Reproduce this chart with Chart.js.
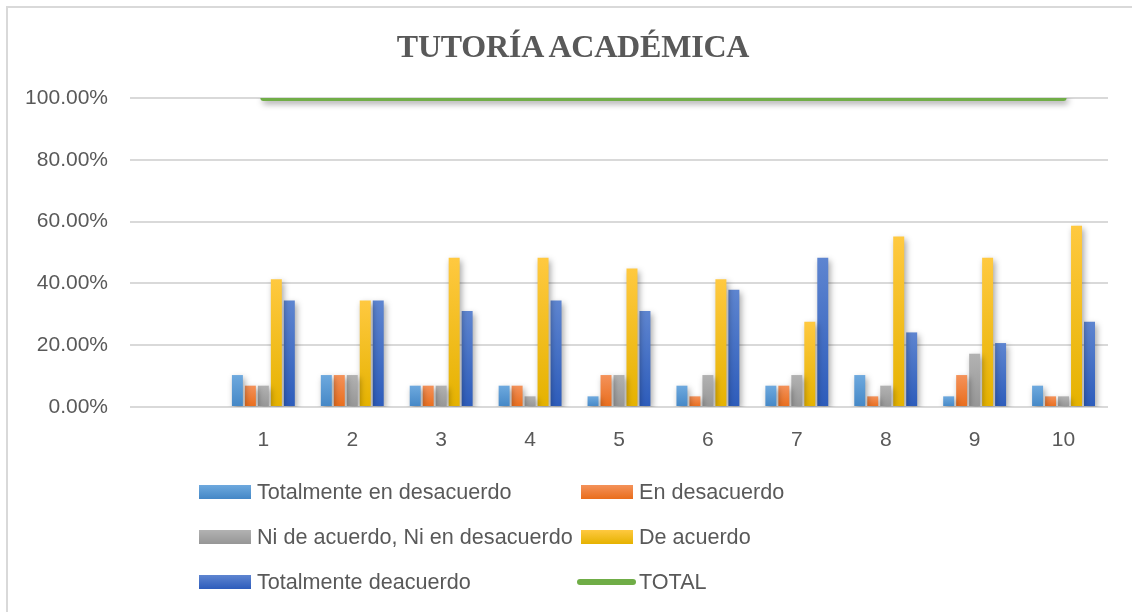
<!DOCTYPE html>
<html>
<head>
<meta charset="utf-8">
<script src="https://cdn.jsdelivr.net/npm/chart.js@4.4.1/dist/chart.umd.min.js"></script>
<style>
  html, body { margin: 0; padding: 0; background: #fff; overflow: hidden; }
  #wrap { position: relative; width: 1132px; height: 612px; overflow: hidden; }
  #frame { position: absolute; left: 6px; top: 6px; width: 1140px; height: 620px; border: 2px solid #d9d9d9; box-sizing: border-box; }
  #title { position: absolute; left: 0; top: 28px; width: 1146px; text-align: center; font: bold 32px "Liberation Serif", "Times New Roman", serif; line-height: 36px; color: #595959; letter-spacing: -0.2px; }
  canvas { position: absolute; left: 0; top: 0; }
  .item { position: absolute; height: 24px; display: flex; align-items: center; font: 21.6px "Liberation Sans", Arial, sans-serif; color: #595959; white-space: nowrap; }
  .sw { width: 52px; height: 14px; margin-right: 6px; }
  .ln { width: 59px; height: 6px; border-radius: 3px; margin-right: 3px; }
</style>
</head>
<body>
<div id="wrap">
  <div id="frame"></div>
  <canvas id="c" width="1132" height="612"></canvas>
  <div id="title">TUTORÍA ACADÉMICA</div>
  <div id="legend"></div>
</div>
<script>
const categories = ['', '1', '2', '3', '4', '5', '6', '7', '8', '9', '10'];
const totalmenteEnDesacuerdo = [null, 10.34, 10.34, 6.90, 6.90, 3.45, 6.90, 6.90, 10.34, 3.45, 6.90];
const enDesacuerdo = [null, 6.90, 10.34, 6.90, 6.90, 10.34, 3.45, 6.90, 3.45, 10.34, 3.45];
const niDeAcuerdo = [null, 6.90, 10.34, 6.90, 3.45, 10.34, 10.34, 10.34, 6.90, 17.24, 3.45];
const deAcuerdo = [null, 41.38, 34.48, 48.28, 48.28, 44.83, 41.38, 27.59, 55.17, 48.28, 58.62];
const totalmenteDeacuerdo = [null, 34.48, 34.48, 31.03, 34.48, 31.03, 37.93, 48.28, 24.14, 20.69, 27.59];
const total = [null, 100, 100, 100, 100, 100, 100, 100, 100, 100, 100];
const yTicks = [0, 20, 40, 60, 80, 100];

const seriesNames = ['Totalmente en desacuerdo', 'En desacuerdo', 'Ni de acuerdo, Ni en desacuerdo', 'De acuerdo', 'Totalmente deacuerdo', 'TOTAL'];
const gradStops = [
  ['#6EA9DE', '#4487C6'],
  ['#F4925A', '#E96D1C'],
  ['#B2B2B2', '#969696'],
  ['#FFC940', '#E5B200'],
  ['#5E85D0', '#2D5CBB']
];

function barGradient(idx) {
  return function (ctx) {
    const chart = ctx.chart;
    if (!chart.chartArea || ctx.type !== 'data') return gradStops[idx][0];
    const v = ctx.raw;
    if (v == null) return gradStops[idx][0];
    const ys = chart.scales.y;
    const top = ys.getPixelForValue(v);
    const bot = ys.getPixelForValue(0);
    const g = chart.ctx.createLinearGradient(0, top, 0, bot);
    g.addColorStop(0, gradStops[idx][0]);
    g.addColorStop(1, gradStops[idx][1]);
    return g;
  };
}

const shadowPlugin = {
  id: 'shadow',
  beforeDatasetDraw(chart) {
    const c = chart.ctx;
    c.save();
    c.shadowColor = 'rgba(0,0,0,0.35)';
    c.shadowBlur = 6;
    c.shadowOffsetX = 2;
    c.shadowOffsetY = 3;
  },
  afterDatasetDraw(chart) {
    chart.ctx.restore();
  }
};

const seriesData = [totalmenteEnDesacuerdo, enDesacuerdo, niDeAcuerdo, deAcuerdo, totalmenteDeacuerdo];
const datasets = seriesData.map((d, i) => ({
  type: 'bar',
  label: seriesNames[i],
  data: d,
  backgroundColor: barGradient(i),
  borderWidth: 0,
  categoryPercentage: 0.73,
  barPercentage: 0.846,
  order: 2
}));
datasets.push({
  type: 'line',
  label: seriesNames[5],
  data: total,
  borderColor: '#70AD47',
  backgroundColor: '#70AD47',
  borderWidth: 6,
  borderCapStyle: 'round',
  pointRadius: 0,
  pointHoverRadius: 0,
  fill: false,
  spanGaps: false,
  order: 1
});

new Chart(document.getElementById('c'), {
  type: 'bar',
  data: { labels: categories, datasets },
  plugins: [shadowPlugin],
  options: {
    responsive: false,
    animation: false,
    layout: { padding: { left: 8, right: 24, top: 98, bottom: 139 } },
    plugins: { legend: { display: false }, title: { display: false }, tooltip: { enabled: false } },
    scales: {
      x: {
        grid: { display: false, drawTicks: false },
        border: { display: false },
        ticks: { color: '#595959', font: { family: 'Liberation Sans', size: 21 }, padding: 20.4, maxRotation: 0, autoSkip: false }
      },
      y: {
        min: 0, max: 100,
        afterBuildTicks(s) { s.ticks = yTicks.map(v => ({ value: v })); },
        afterFit(s) { s.width = 122; },
        grid: { color: '#d9d9d9', lineWidth: 2, drawTicks: false },
        border: { display: false },
        ticks: { color: '#595959', font: { family: 'Liberation Sans', size: 21 }, padding: 22, callback: v => v.toFixed(2) + '%' }
      }
    }
  }
});

const legendItems = [
  { i: 0, x: 199, y: 480 }, { i: 1, x: 581, y: 480 },
  { i: 2, x: 199, y: 525 }, { i: 3, x: 581, y: 525 },
  { i: 4, x: 199, y: 570 }, { i: 5, x: 577, y: 570 }
];
const lg = document.getElementById('legend');
legendItems.forEach(it => {
  const d = document.createElement('div');
  d.className = 'item';
  d.style.left = it.x + 'px';
  d.style.top = it.y + 'px';
  const s = document.createElement('span');
  if (it.i === 5) {
    s.className = 'ln';
    s.style.background = '#70AD47';
  } else {
    s.className = 'sw';
    s.style.background = 'linear-gradient(' + gradStops[it.i][0] + ',' + gradStops[it.i][1] + ')';
  }
  d.appendChild(s);
  const t = document.createElement('span');
  t.textContent = seriesNames[it.i];
  d.appendChild(t);
  lg.appendChild(d);
});
</script>
</body>
</html>
